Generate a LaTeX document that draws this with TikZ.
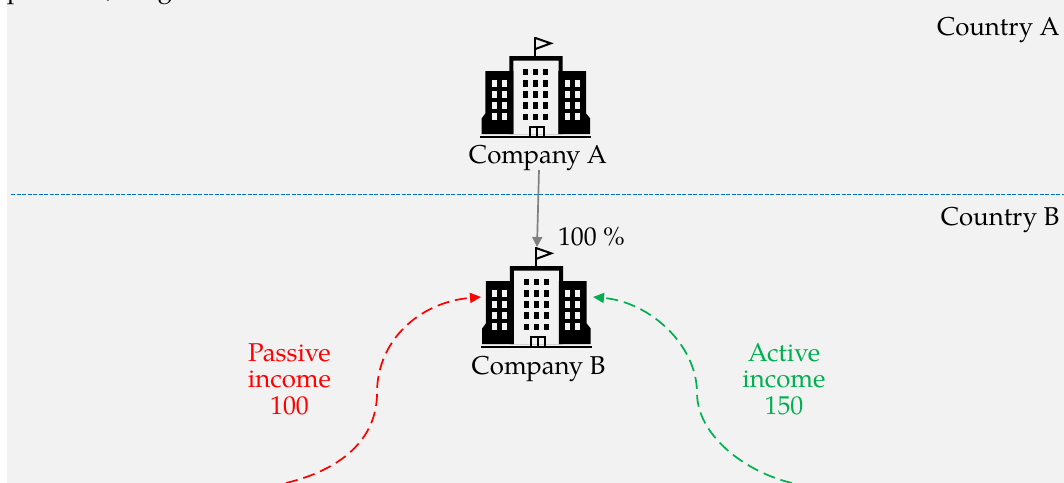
\documentclass[tikz,border=0pt]{standalone}
\usepackage{fontspec}
\setmainfont{TeX Gyre Pagella}
\usetikzlibrary{arrows.meta}
\definecolor{panel}{HTML}{F2F2F2}
\definecolor{linkblue}{HTML}{0070C0}
\definecolor{activegreen}{HTML}{00B050}
\tikzset{
  lbl/.style={inner sep=0pt,font=\fontsize{25.8}{26.5}\selectfont,align=center},
  flow/.style={line width=1.7pt,dash pattern=on 12pt off 6pt,-{Triangle[length=11pt,width=10pt]}},
  building/.pic={
    \fill (78,153) -- (162,153) -- (162,342) -- (67,342) -- (67,295) -- (78,280) -- cycle;
    \fill (380,153) -- (297,153) -- (297,342) -- (392,342) -- (392,295) -- (380,280) -- cycle;
    \fill[even odd rule] (150,108) rectangle (310,342) (162,122) rectangle (298,342);
    \fill (63,348.5) rectangle (396,353.5);
    \foreach \cx in {97,127,316,346}
      \foreach \cy in {180,214,247,280}
        \fill[panel] (\cx,\cy) rectangle ++(15,20);
    \foreach \cx in {192,222,252}
      \foreach \cy in {146,180,214,247,281}
        \fill (\cx,\cy) rectangle ++(14,20);
    \draw[line width=2pt] (212,350) -- (212,320) -- (254,320) -- (254,350) (233,320) -- (233,350);
    \fill (225,52) rectangle (231,108);
    \draw[line width=2pt,line join=miter] (228,54) -- (274,70) -- (228,87);
  }
}
\begin{document}
\begin{tikzpicture}[x=1pt,y=-1pt]
\useasboundingbox (0,0) rectangle (1064,482);
\clip (0,0) rectangle (1064,482);
\fill[white] (0,0) rectangle (1064,482);
\fill[panel] (7,0) rectangle (1064,483);
% cut-off text at the top edge
\node[lbl,anchor=base] (frag1) at (15,-3) {p};
\node[lbl,anchor=base] (frag2) at (110,-3) {,};
\node[lbl,anchor=base] (frag3) at (165,-3) {g};
% buildings
\pic[xscale=1/3,yscale=1/3] at (459.4,20) {building};
\pic[xscale=1/3,yscale=1/3] at (459.9,230) {building};
\coordinate (roofB) at (537,247);
\coordinate (incomeL) at (481,297);
\coordinate (incomeR) at (593,297);
\coordinate (startL) at (286,483);
\coordinate (startR) at (792,483);
\coordinate (lineL) at (11,194);
\coordinate (lineR) at (1064,194);
% labels
\node[lbl] (ca) at (538,158) {Company A};
\node[lbl] (cb) at (538.5,368.5) {Company B};
\node[lbl,anchor=east] (cya) at (1060,30) {Country A};
\node[lbl,anchor=east] (cyb) at (1059.5,220) {Country B};
\node[lbl] (pct) at (591.5,237) {100 \%};
\node[lbl,text=red] (pas) at (289.5,379) {Passive\\income\\100};
\node[lbl,text=activegreen] (act) at (784,379) {Active\\income\\150};
% connectors
\draw[linkblue,line width=1pt,dash pattern=on 4pt off 1.5pt] (lineL) -- (lineR);
\draw[gray,line width=1.7pt,-{Triangle[length=10pt,width=10pt]}] (539,170) -- (roofB);
\draw[flow,red] (startL) .. controls (340,470) and (377,440) .. (377,393) .. controls (377,340) and (420,302) .. (incomeL);
\draw[flow,activegreen] (startR) .. controls (745,472) and (697,435) .. (697,393) .. controls (697,345) and (650,302) .. (incomeR);
\end{tikzpicture}
\end{document}
